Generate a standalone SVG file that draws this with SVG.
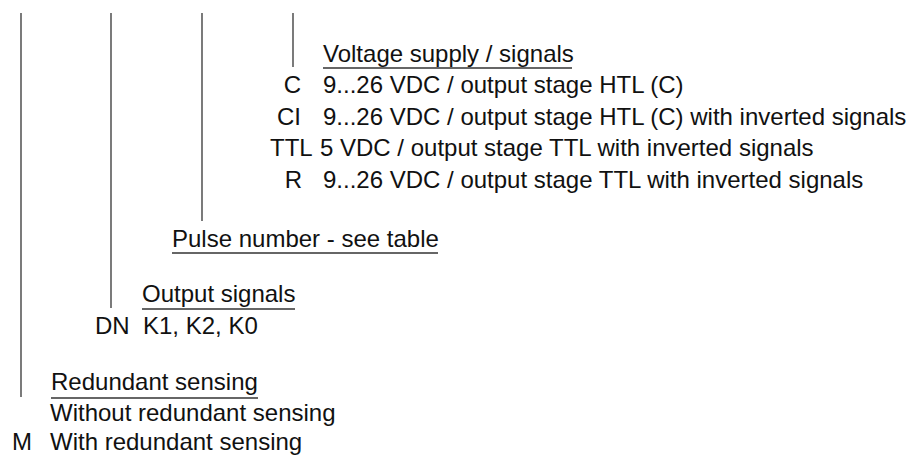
<svg xmlns="http://www.w3.org/2000/svg" width="910" height="459" viewBox="0 0 910 459">
<style>
text { font-family: "Liberation Sans", Arial, sans-serif; font-size: 24px; fill: #111; }
.e { text-anchor: end; }
.v { stroke: #333; stroke-width: 1.3; fill: none; }
.u { stroke: #333; stroke-width: 1.3; fill: none; }
</style>
<rect width="910" height="459" fill="#fff"/>
<g id="connectors">
<line class="v" x1="21" y1="13" x2="21" y2="397"/>
<line class="v" x1="111" y1="13" x2="111" y2="308"/>
<line class="v" x1="202" y1="13" x2="202" y2="221"/>
<line class="v" x1="293" y1="13" x2="293" y2="67"/>
</g>
<g id="voltage">
<text x="323" y="62">Voltage supply / signals</text>
<line class="u" x1="323" y1="68" x2="572" y2="68"/>
<text class="e" x="301" y="93">C</text>
<text x="323" y="93">9...26 VDC / output stage HTL (C)</text>
<text class="e" x="301" y="125">CI</text>
<text x="323" y="125">9...26 VDC / output stage HTL (C) with inverted signals</text>
<text x="270" y="156">TTL</text>
<text x="320" y="156">5 VDC / output stage TTL with inverted signals</text>
<text class="e" x="302" y="188">R</text>
<text x="323" y="188">9...26 VDC / output stage TTL with inverted signals</text>
</g>
<g id="pulse">
<text x="172" y="247">Pulse number - see table</text>
<line class="u" x1="172" y1="253" x2="438" y2="253"/>
</g>
<g id="output">
<text x="142" y="302">Output signals</text>
<line class="u" x1="142" y1="309" x2="295" y2="309"/>
<text x="95" y="334">DN</text>
<text x="143" y="334">K1, K2, K0</text>
</g>
<g id="redundant">
<text x="51" y="390">Redundant sensing</text>
<line class="u" x1="51" y1="398" x2="258" y2="398"/>
<text x="50" y="421">Without redundant sensing</text>
<text x="12" y="450">M</text>
<text x="50" y="450">With redundant sensing</text>
</g>
</svg>
